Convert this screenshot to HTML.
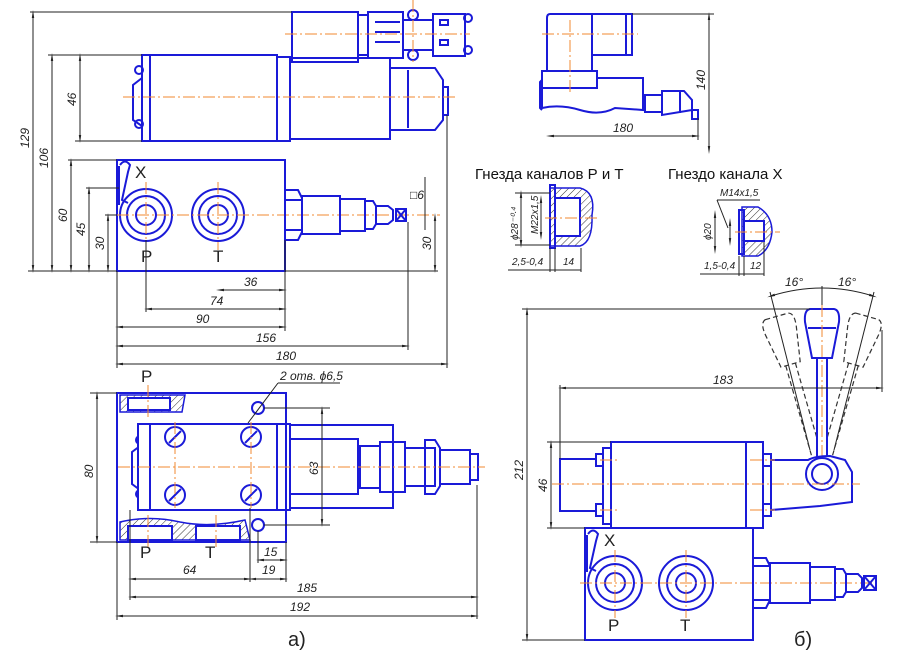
<!DOCTYPE html>
<html><head><meta charset="utf-8"><style>
html,body{margin:0;padding:0;background:#fff;}
svg{display:block;}
text{font-family:"Liberation Sans",sans-serif;}
.b{fill:none;stroke:#1a1ad8;stroke-width:2;}
.bf{fill:#fff;stroke:#1a1ad8;stroke-width:2;}
.o{stroke:#f08a30;stroke-width:1;stroke-dasharray:12 3 2 3;fill:none;}
.d{stroke:#222;stroke-width:1;fill:none;}
.da{stroke:#222;stroke-width:1;fill:none;marker-start:url(#a);marker-end:url(#a);}
.dash{fill:none;stroke:#333;stroke-width:1.2;stroke-dasharray:5 3;}
.t{font-size:12px;font-style:italic;fill:#222;}
.L{font-size:17px;fill:#222;}
.h{stroke:#333;stroke-width:.8;}
</style></head><body>
<svg width="900" height="654" viewBox="0 0 900 654" xmlns="http://www.w3.org/2000/svg">
<defs>
<marker id="a" viewBox="0 0 10 10" refX="5" refY="5" markerWidth="8" markerHeight="8" orient="auto-start-reverse"><path d="M0,3.5 L10,5 L0,6.5 z" fill="#222"/></marker>
<pattern id="hat" width="5" height="5" patternUnits="userSpaceOnUse" patternTransform="rotate(45)"><line x1="0" y1="0" x2="0" y2="5" stroke="#333" stroke-width="1"/></pattern>
</defs>

<!-- ===== TOP-LEFT VIEW ===== -->
<rect class="b" x="292" y="12" width="66" height="50"/>
<rect class="b" x="358" y="15" width="10" height="40"/>
<rect class="b" x="368" y="12" width="35" height="46"/>
<line class="b" x1="375" y1="22" x2="400" y2="22"/><line class="b" x1="375" y1="32" x2="400" y2="32"/><line class="b" x1="375" y1="42" x2="400" y2="42"/>
<circle class="b" cx="413" cy="15" r="5"/><circle class="b" cx="413" cy="55" r="5"/>
<rect class="b" x="403" y="20" width="30" height="30"/>
<rect class="b" x="433" y="14" width="32" height="42"/>
<rect class="b" x="440" y="20" width="8" height="5"/><rect class="b" x="440" y="40" width="8" height="5"/>
<circle class="b" cx="468" cy="18" r="4"/><circle class="b" cx="468" cy="50" r="4"/>
<line class="o" x1="285" y1="34" x2="470" y2="34"/>
<line class="o" x1="413" y1="0" x2="413" y2="62"/>

<path class="b" d="M142,78 L133,85 L133,120 L142,126"/>
<circle class="b" cx="139" cy="70" r="4"/><circle class="b" cx="139" cy="124" r="4"/>
<rect class="b" x="142" y="55" width="8" height="86"/>
<rect class="b" x="150" y="55" width="127" height="86"/>
<rect class="b" x="277" y="57" width="13" height="84"/>
<rect class="b" x="290" y="58" width="100" height="81"/>
<path class="b" d="M390,68 L435,68 L443,80 L443,120 L435,130 L390,130 Z"/>
<rect class="b" x="443" y="87" width="5" height="28"/>
<line class="b" x1="408" y1="70" x2="408" y2="128"/>
<line class="o" x1="123" y1="97" x2="455" y2="97"/>

<rect class="b" x="117" y="160" width="168" height="111"/>
<path class="b" d="M120,165 Q125,158 130,165 L128,172 L122,200 L128,203"/>
<line class="b" x1="119" y1="166" x2="119" y2="205"/>
<circle class="b" cx="146" cy="215" r="26"/><circle class="b" cx="146" cy="215" r="19"/><circle class="b" cx="146" cy="215" r="10"/>
<circle class="b" cx="218" cy="215" r="26"/><circle class="b" cx="218" cy="215" r="19"/><circle class="b" cx="218" cy="215" r="10"/>
<line class="o" x1="117" y1="215" x2="440" y2="215"/>
<line class="o" x1="146" y1="182" x2="146" y2="250"/><line class="o" x1="218" y1="182" x2="218" y2="250"/>
<text class="L" x="135" y="178">X</text><text class="L" x="141" y="262">P</text><text class="L" x="213" y="262">T</text>
<path class="b" d="M285,190 L298,190 L302,198 L302,232 L298,240 L285,240 Z"/>
<line class="b" x1="285" y1="200" x2="302" y2="200"/><line class="b" x1="285" y1="230" x2="302" y2="230"/>
<rect class="b" x="302" y="196" width="38" height="38"/>
<rect class="b" x="340" y="199" width="25" height="32"/>
<path class="b" d="M365,201 L373,201 L376,206 L376,224 L373,229 L365,229 Z"/>
<path class="b" d="M376,206 L388,206 L393,210 L393,220 L388,224 L376,224 Z"/>
<rect class="b" x="396" y="209" width="10" height="12"/><line class="b" x1="396" y1="209" x2="406" y2="221"/><line class="b" x1="406" y1="209" x2="396" y2="221"/>

<!-- dims top-left -->
<line class="d" x1="30" y1="12" x2="292" y2="12"/>
<line class="d" x1="48" y1="55" x2="142" y2="55"/>
<line class="d" x1="75" y1="141" x2="142" y2="141"/>
<line class="d" x1="28" y1="271" x2="117" y2="271"/>
<line class="d" x1="68" y1="160" x2="117" y2="160"/>
<line class="d" x1="86" y1="188" x2="119" y2="188"/>
<line class="d" x1="105" y1="215" x2="117" y2="215"/>
<line class="da" x1="33" y1="14" x2="33" y2="269"/>
<line class="da" x1="52" y1="57" x2="52" y2="269"/>
<line class="da" x1="80" y1="57" x2="80" y2="139"/>
<line class="da" x1="71" y1="162" x2="71" y2="269"/>
<line class="da" x1="89" y1="190" x2="89" y2="269"/>
<line class="da" x1="108" y1="217" x2="108" y2="269"/>
<text class="t" transform="translate(29,148) rotate(-90)">129</text>
<text class="t" transform="translate(48,168) rotate(-90)">106</text>
<text class="t" transform="translate(76,106) rotate(-90)">46</text>
<text class="t" transform="translate(67,222) rotate(-90)">60</text>
<text class="t" transform="translate(85,236) rotate(-90)">45</text>
<text class="t" transform="translate(104,250) rotate(-90)">30</text>
<line class="d" x1="117" y1="271" x2="117" y2="368"/>
<line class="d" x1="146" y1="240" x2="146" y2="312"/>
<line class="d" x1="285" y1="240" x2="285" y2="331"/>
<line class="d" x1="408" y1="222" x2="408" y2="350"/>
<line class="d" x1="447" y1="115" x2="447" y2="368"/>
<line class="d" x1="285" y1="271" x2="438" y2="271"/>
<line class="da" x1="220" y1="290" x2="283" y2="290"/>
<line class="da" x1="148" y1="309" x2="283" y2="309"/>
<line class="da" x1="119" y1="327" x2="283" y2="327"/>
<line class="da" x1="119" y1="346" x2="406" y2="346"/>
<line class="da" x1="119" y1="364" x2="445" y2="364"/>
<text class="t" x="244" y="286">36</text><text class="t" x="210" y="305">74</text>
<text class="t" x="196" y="323">90</text><text class="t" x="256" y="342">156</text>
<text class="t" x="276" y="360">180</text>
<line class="da" x1="435" y1="217" x2="435" y2="269"/>
<text class="t" transform="translate(431,250) rotate(-90)">30</text>
<line class="d" x1="425" y1="177" x2="425" y2="230"/>
<text class="t" x="410" y="199">□6</text>

<!-- ===== BOTTOM-LEFT VIEW ===== -->
<rect class="b" x="117" y="393" width="169" height="149"/>
<path d="M120,395 L185,395 L182,412 L120,412 Z" fill="url(#hat)" stroke="#1a1ad8" stroke-width="1.5"/>
<rect class="bf" x="128" y="398" width="42" height="12"/>
<path d="M120,522 Q150,515 180,522 Q210,528 245,520 L250,540 L120,540 Z" fill="url(#hat)" stroke="#1a1ad8" stroke-width="1.5"/>
<rect class="bf" x="128" y="526" width="44" height="14"/><rect class="bf" x="196" y="526" width="44" height="14"/>
<line class="b" x1="117" y1="542" x2="286" y2="542"/>
<path class="b" d="M140,446 L132,452 L132,484 L140,490"/>
<circle class="b" cx="140" cy="440" r="4"/><circle class="b" cx="140" cy="494" r="4"/>
<rect class="bf" x="138" y="424" width="12" height="86"/>
<rect class="bf" x="150" y="424" width="127" height="86"/>
<circle class="b" cx="175" cy="437" r="10"/><circle class="b" cx="251" cy="437" r="10"/>
<circle class="b" cx="175" cy="495" r="10"/><circle class="b" cx="251" cy="495" r="10"/>
<line class="b" x1="169" y1="443" x2="181" y2="431"/><line class="b" x1="245" y1="443" x2="257" y2="431"/>
<line class="b" x1="169" y1="501" x2="181" y2="489"/><line class="b" x1="245" y1="501" x2="257" y2="489"/>
<circle class="b" cx="258" cy="408" r="6"/><circle class="b" cx="258" cy="525" r="6"/>
<rect class="b" x="277" y="424" width="13" height="86"/>
<rect class="b" x="290" y="425" width="103" height="83"/>
<rect class="b" x="290" y="439" width="68" height="55"/>
<rect class="b" x="360" y="446" width="20" height="42"/>
<rect class="b" x="380" y="442" width="25" height="50"/>
<rect class="b" x="405" y="448" width="30" height="38"/>
<path class="b" d="M425,440 L435,440 L440,448 L440,486 L435,494 L425,494 Z"/>
<rect class="b" x="440" y="450" width="30" height="34"/>
<rect class="b" x="470" y="454" width="8" height="26"/>
<line class="o" x1="118" y1="467" x2="485" y2="467"/>
<line class="o" x1="148" y1="385" x2="148" y2="420"/><line class="o" x1="148" y1="515" x2="148" y2="548"/>
<line class="o" x1="216" y1="515" x2="216" y2="548"/>
<line class="o" x1="175" y1="422" x2="175" y2="508"/><line class="o" x1="251" y1="422" x2="251" y2="508"/>
<text class="L" x="141" y="382">P</text><text class="L" x="140" y="558">P</text><text class="L" x="205" y="558">T</text>
<text class="t" x="280" y="380">2 отв. ϕ6,5</text>
<line class="d" x1="278" y1="383" x2="340" y2="383"/><line class="d" x1="278" y1="383" x2="248" y2="423"/>
<line class="d" x1="90" y1="393" x2="117" y2="393"/><line class="d" x1="90" y1="542" x2="117" y2="542"/>
<line class="da" x1="97" y1="395" x2="97" y2="540"/>
<text class="t" transform="translate(93,478) rotate(-90)">80</text>
<line class="d" x1="264" y1="408" x2="330" y2="408"/><line class="d" x1="264" y1="525" x2="330" y2="525"/>
<line class="da" x1="322" y1="410" x2="322" y2="523"/>
<text class="t" transform="translate(318,475) rotate(-90)">63</text>
<line class="d" x1="130" y1="510" x2="130" y2="600"/>
<line class="d" x1="250" y1="508" x2="250" y2="582"/>
<line class="d" x1="258" y1="531" x2="258" y2="563"/>
<line class="d" x1="286" y1="542" x2="286" y2="582"/>
<line class="d" x1="477" y1="485" x2="477" y2="619"/>
<line class="da" x1="260" y1="560" x2="284" y2="560"/>
<line class="da" x1="132" y1="579" x2="248" y2="579"/>
<line class="da" x1="252" y1="579" x2="284" y2="579"/>
<text class="t" x="264" y="556">15</text><text class="t" x="262" y="574">19</text><text class="t" x="183" y="574">64</text>
<line class="da" x1="132" y1="597" x2="475" y2="597"/>
<line class="da" x1="119" y1="616" x2="475" y2="616"/>
<line class="d" x1="117" y1="542" x2="117" y2="620"/>
<text class="t" x="297" y="592">185</text><text class="t" x="290" y="611">192</text>
<text x="288" y="646" style="font-size:20px;fill:#222">а)</text>

<!-- ===== TOP-RIGHT VIEW ===== -->
<path class="b" d="M550,14 L592,14 L592,71 L547,71 L547,18 Q547,14 550,14 Z"/>
<rect class="b" x="592" y="14" width="34" height="41"/>
<rect class="b" x="626" y="14" width="6" height="41"/>
<rect class="b" x="542" y="71" width="55" height="17"/>
<path class="b" d="M542,80 L540,82 L540,108 L542,110"/>
<path class="b" d="M542,88 L542,108 Q560,104 580,110 Q600,116 615,108 L643,110 L643,78 L597,78"/>
<line class="b" x1="643" y1="84" x2="643" y2="110"/>
<rect class="b" x="645" y="95" width="17" height="17"/>
<path class="b" d="M662,91 L684,91 L692,100 L692,110 L662,115 Z"/>
<line class="b" x1="680" y1="91" x2="680" y2="113"/>
<rect class="b" x="692" y="110" width="6" height="9"/>
<line class="o" x1="542" y1="34" x2="638" y2="34"/>
<line class="o" x1="570" y1="20" x2="570" y2="95"/>
<line class="d" x1="632" y1="14" x2="714" y2="14"/>
<line class="da" x1="709" y1="16" x2="709" y2="150"/>
<text class="t" transform="translate(705,90) rotate(-90)">140</text>
<line class="d" x1="698" y1="118" x2="698" y2="140"/>
<line class="da" x1="550" y1="136" x2="696" y2="136"/>
<text class="t" x="613" y="132">180</text>

<text x="475" y="179" style="font-size:15px;fill:#111">Гнезда каналов Р и Т</text>
<text x="668" y="179" style="font-size:15px;fill:#111">Гнездо канала Х</text>

<!-- P,T section -->
<path d="M550,188 L580,188 Q596,192 592,215 Q593,242 580,246 L550,246 Z" fill="url(#hat)" stroke="#1a1ad8" stroke-width="1.5"/>
<rect class="bf" x="555" y="198" width="25" height="38"/>
<rect class="b" x="550" y="185" width="5" height="63"/>
<line class="o" x1="545" y1="218" x2="600" y2="218"/>
<line class="da" x1="521" y1="194" x2="521" y2="244"/><line class="da" x1="541" y1="199" x2="541" y2="236"/>
<line class="d" x1="515" y1="193" x2="550" y2="193"/><line class="d" x1="515" y1="245" x2="550" y2="245"/>
<text class="t" transform="translate(518,240) rotate(-90)" style="font-size:10px">ϕ28⁻⁰·⁴</text>
<text class="t" transform="translate(538,234) rotate(-90)" style="font-size:10px">M22x1,5</text>
<line class="d" x1="550" y1="248" x2="550" y2="272"/><line class="d" x1="555" y1="248" x2="555" y2="272"/><line class="d" x1="581" y1="248" x2="581" y2="272"/>
<line class="d" x1="508" y1="270" x2="581" y2="270"/>
<text class="t" x="512" y="265" style="font-size:10px">2,5-0,4</text><text class="t" x="563" y="265" style="font-size:10px">14</text>
<!-- X section -->
<path d="M742,207 L758,207 Q772,215 772,232 Q770,250 758,256 L742,256 Z" fill="url(#hat)" stroke="#1a1ad8" stroke-width="1.5"/>
<rect class="bf" x="744" y="221" width="20" height="20"/>
<rect class="b" x="739" y="210" width="5" height="44"/>
<line class="o" x1="735" y1="232" x2="780" y2="232"/>
<line class="d" x1="717" y1="200" x2="760" y2="200"/><line class="d" x1="717" y1="200" x2="728" y2="228"/>
<text class="t" x="720" y="196" style="font-size:10px">M14x1,5</text>
<line class="da" x1="715" y1="214" x2="715" y2="250"/>
<line class="da" x1="730" y1="222" x2="730" y2="242"/>
<text class="t" transform="translate(711,240) rotate(-90)" style="font-size:10px">ϕ20</text>
<line class="d" x1="739" y1="256" x2="739" y2="276"/><line class="d" x1="744" y1="256" x2="744" y2="276"/><line class="d" x1="764" y1="242" x2="764" y2="276"/>
<line class="d" x1="700" y1="274" x2="764" y2="274"/>
<text class="t" x="704" y="269" style="font-size:10px">1,5-0,4</text><text class="t" x="750" y="269" style="font-size:10px">12</text>

<!-- ===== BOTTOM-RIGHT VIEW ===== -->
<text class="t" x="785" y="286">16°</text><text class="t" x="838" y="286">16°</text>
<path class="d" d="M771,296 Q822,280 873,296" marker-start="url(#a)" marker-end="url(#a)"/>
<line class="d" x1="822" y1="286" x2="822" y2="310"/>
<line class="d" x1="770" y1="292" x2="810" y2="450"/><line class="d" x1="874" y1="292" x2="834" y2="450"/>
<g transform="rotate(-16 822 474)">
<path class="dash" d="M810,310 L834,310 Q840,312 838,325 L832,360 L812,360 L806,325 Q804,312 810,310 Z"/>
<line class="dash" x1="817" y1="360" x2="817" y2="462"/><line class="dash" x1="827" y1="360" x2="827" y2="462"/>
</g>
<g transform="rotate(16 822 474)">
<path class="dash" d="M810,310 L834,310 Q840,312 838,325 L832,360 L812,360 L806,325 Q804,312 810,310 Z"/>
<line class="dash" x1="817" y1="360" x2="817" y2="462"/><line class="dash" x1="827" y1="360" x2="827" y2="462"/>
</g>
<path class="bf" d="M810,309 L834,309 Q840,310 839,322 L832,358 L812,358 L805,322 Q804,310 810,309 Z"/>
<line class="b" x1="808" y1="328" x2="836" y2="328"/>
<rect class="bf" x="817" y="358" width="10" height="104"/>
<line class="o" x1="822" y1="305" x2="822" y2="495"/>

<rect class="bf" x="560" y="459" width="43" height="52"/>
<rect class="bf" x="596" y="454" width="8" height="12"/><rect class="bf" x="596" y="504" width="8" height="12"/>
<rect class="bf" x="603" y="448" width="8" height="76"/>
<rect class="bf" x="611" y="442" width="135" height="86"/>
<rect class="bf" x="746" y="442" width="17" height="86"/>
<rect class="bf" x="763" y="454" width="8" height="12"/><rect class="bf" x="763" y="504" width="8" height="12"/>
<path class="bf" d="M771,460 L808,460 Q815,456 830,456 L845,460 L852,472 L852,502 L820,506 L771,510 Z"/>
<circle class="bf" cx="822" cy="474" r="16"/><circle class="b" cx="822" cy="474" r="10"/>
<line class="o" x1="552" y1="484" x2="860" y2="484"/>
<line class="o" x1="600" y1="460" x2="620" y2="460"/><line class="o" x1="600" y1="510" x2="620" y2="510"/>
<line class="o" x1="750" y1="460" x2="775" y2="460"/><line class="o" x1="750" y1="510" x2="775" y2="510"/>

<rect class="b" x="585" y="528" width="168" height="112"/>
<path class="b" d="M588,534 Q593,527 598,534 L596,541 L590,568 L596,571"/>
<line class="b" x1="587" y1="535" x2="587" y2="572"/>
<circle class="b" cx="615" cy="583" r="27"/><circle class="b" cx="615" cy="583" r="19"/><circle class="b" cx="615" cy="583" r="10"/>
<circle class="b" cx="686" cy="583" r="27"/><circle class="b" cx="686" cy="583" r="19"/><circle class="b" cx="686" cy="583" r="10"/>
<line class="o" x1="580" y1="583" x2="880" y2="583"/>
<line class="o" x1="615" y1="550" x2="615" y2="618"/><line class="o" x1="686" y1="550" x2="686" y2="618"/>
<text class="L" x="604" y="546">X</text><text class="L" x="608" y="631">P</text><text class="L" x="680" y="631">T</text>
<path class="b" d="M753,558 L766,558 L770,566 L770,600 L766,608 L753,608 Z"/>
<line class="b" x1="753" y1="566" x2="770" y2="566"/><line class="b" x1="753" y1="600" x2="770" y2="600"/>
<rect class="b" x="770" y="563" width="40" height="40"/>
<rect class="b" x="810" y="567" width="25" height="33"/>
<path class="b" d="M835,569 L843,569 L846,574 L846,592 L843,597 L835,597 Z"/>
<path class="b" d="M846,574 L858,574 L862,578 L862,588 L858,592 L846,592 Z"/>
<rect class="b" x="864" y="576" width="12" height="14"/><line class="b" x1="864" y1="576" x2="876" y2="590"/><line class="b" x1="876" y1="576" x2="864" y2="590"/>

<line class="d" x1="522" y1="309" x2="810" y2="309"/>
<line class="d" x1="522" y1="640" x2="585" y2="640"/>
<line class="da" x1="527" y1="311" x2="527" y2="638"/>
<text class="t" transform="translate(523,480) rotate(-90)">212</text>
<line class="d" x1="560" y1="385" x2="560" y2="459"/>
<line class="d" x1="882" y1="330" x2="882" y2="392"/>
<line class="da" x1="562" y1="388" x2="880" y2="388"/>
<text class="t" x="713" y="384">183</text>
<line class="d" x1="547" y1="442" x2="611" y2="442"/><line class="d" x1="547" y1="528" x2="585" y2="528"/>
<line class="da" x1="551" y1="444" x2="551" y2="526"/>
<text class="t" transform="translate(547,492) rotate(-90)">46</text>
<text x="794" y="646" style="font-size:20px;fill:#222">б)</text>
</svg>
</body></html>
